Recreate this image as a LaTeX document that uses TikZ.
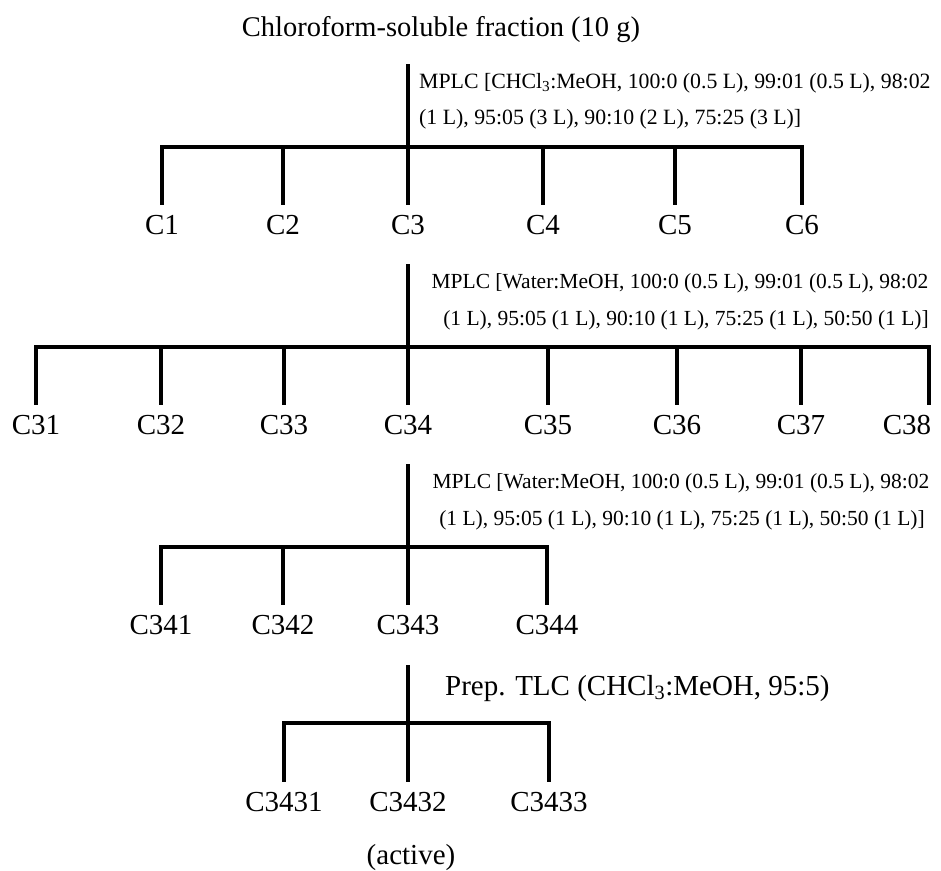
\documentclass[tikz,border=0pt]{standalone}
\usepackage{fontspec}
\setmainfont{Liberation Serif}
\begin{document}
\begin{tikzpicture}[x=1pt,y=-1pt,
  conn/.style={line width=4.5pt},
  barline/.style={line width=4.5pt, line cap=rect},
  lab/.style={font=\fontsize{29}{30}\selectfont, inner xsep=0pt, inner ysep=10pt, anchor=north},
  notea/.style={font=\fontsize{21.8}{24}\selectfont, inner sep=0pt, anchor=base west},
  noteb/.style={font=\fontsize{21.5}{24}\selectfont, inner sep=0pt, anchor=base},
  big/.style={font=\fontsize{29}{30}\selectfont, inner sep=0pt}]
\useasboundingbox (0,0) rectangle (941,870);
% title
\node[big, anchor=base, font=\fontsize{28.5}{30}\selectfont] (title) at (441,36) {Chloroform-soluble fraction (10 g)};
% ---- level 1
\coordinate (s1) at (408,64);
\coordinate (j1) at (408,147);
\draw[conn] (s1) -- (j1);
\node[notea] (m1a) at (419,88) {MPLC [CHCl\textsubscript{3}:MeOH, 100:0 (0.5 L), 99:01 (0.5 L), 98:02};
\node[notea] (m1b) at (419,124) {(1 L), 95:05 (3 L), 90:10 (2 L), 75:25 (3 L)]};
\foreach \n/\x in {1/162,2/283,3/408,4/543,5/675,6/802}{
  \coordinate (d\n) at (\x,147);
  \node[lab] (C\n) at (\x,205) {C\n};
  \draw[conn] (d\n) -- (C\n.north);
}
\draw[barline] (d1) -- (d6);
% ---- level 2
\coordinate (s2) at (408,264);
\coordinate (j2) at (408,347);
\draw[conn] (s2) -- (j2);
\node[noteb] (m2a) at (680,288) {MPLC [Water:MeOH, 100:0 (0.5 L), 99:01 (0.5 L), 98:02};
\node[noteb] (m2b) at (686,325) {(1 L), 95:05 (1 L), 90:10 (1 L), 75:25 (1 L), 50:50 (1 L)]};
\foreach \n/\x in {31/36,32/161,33/284,34/408,35/548,36/677,37/801}{
  \coordinate (d\n) at (\x,347);
  \node[lab] (C\n) at (\x,405) {C\n};
  \draw[conn] (d\n) -- (C\n.north);
}
\coordinate (d38) at (929,347);
\node[lab] (C38) at (907,405) {C38};
\draw[conn] (d38) -- (d38 |- C38.north);
\draw[barline] (d31) -- (d38);
% ---- level 3
\coordinate (s3) at (408,464);
\coordinate (j3) at (408,547);
\draw[conn] (s3) -- (j3);
\node[noteb] (m3a) at (681,488) {MPLC [Water:MeOH, 100:0 (0.5 L), 99:01 (0.5 L), 98:02};
\node[noteb] (m3b) at (682,525) {(1 L), 95:05 (1 L), 90:10 (1 L), 75:25 (1 L), 50:50 (1 L)]};
\foreach \n/\x in {341/161,342/283,343/408,344/547}{
  \coordinate (d\n) at (\x,547);
  \node[lab] (C\n) at (\x,605) {C\n};
  \draw[conn] (d\n) -- (C\n.north);
}
\draw[barline] (d341) -- (d344);
% ---- level 4
\coordinate (s4) at (408,665);
\coordinate (j4) at (408,723);
\draw[conn] (s4) -- (j4);
\node[big, anchor=base west] (tlc) at (445,695) {Prep. TLC (CHCl\textsubscript{3}:MeOH, 95:5)};
\foreach \n/\x in {3431/284,3432/408,3433/549}{
  \coordinate (d\n) at (\x,723);
  \node[lab] (C\n) at (\x,782) {C\n};
  \draw[conn] (d\n) -- (C\n.north);
}
\draw[barline] (d3431) -- (d3433);
\node[big, anchor=base] (active) at (411,864) {(active)};
\end{tikzpicture}
\end{document}
